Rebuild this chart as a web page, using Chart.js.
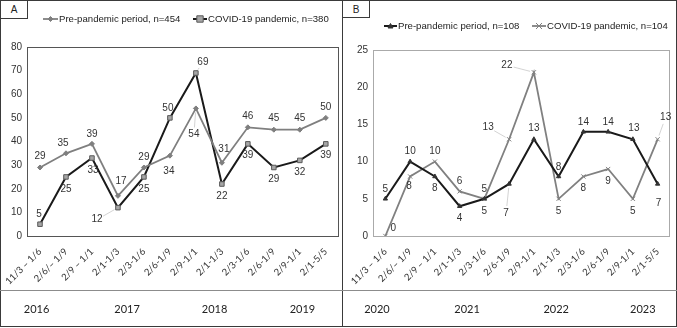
<!DOCTYPE html>
<html lang="en">
<head>
<meta charset="UTF-8">
<title>Pre-pandemic vs COVID-19</title>
<script src="https://cdn.jsdelivr.net/npm/chart.js"></script>
<style>
  html, body { margin: 0; padding: 0; background: #fff; }
  .frame { position: absolute; left: 0; top: 0; width: 677px; height: 327px; box-sizing: border-box; border: 1px solid #3a3a3a; }
  .divider { position: absolute; left: 342px; top: 0; width: 1px; height: 327px; background: #3a3a3a; }
  .hline { position: absolute; left: 0; top: 290px; width: 677px; height: 1px; background: #8c8c8c; }
  .tag { position: absolute; top: 0; width: 28px; height: 19px; box-sizing: border-box; border: 1px solid #3a3a3a;
         font: 10px "Liberation Sans", Arial, sans-serif; color: #222; text-align: center; line-height: 17px; }
  canvas { position: absolute; top: 0; }
</style>
</head>
<body>
<div class="frame"></div>
<div class="divider"></div>
<div class="hline"></div>
<div class="tag" style="left:0">A</div>
<div class="tag" style="left:342px;height:18px">B</div>
<canvas id="chartA" width="343" height="328" style="left:0"></canvas>
<canvas id="chartB" width="334" height="328" style="left:343px"></canvas>

<script>
  // x categories (same for both panels)
  const periods = ['11/3 \u2013 1/6', '2/6/\u2013 1/9', '2/9 \u2013 1/1', '2/1-1/3', '2/3-1/6', '2/6-1/9',
                   '2/9-1/1', '2/1-1/3', '2/3-1/6', '2/6-1/9', '2/9-1/1', '2/1-5/5'];

  // panel A
  const preA   = [29, 35, 39, 17, 29, 34, 54, 31, 46, 45, 45, 50];
  const covidA = [5, 25, 33, 12, 25, 50, 69, 22, 39, 29, 32, 39];
  const yearsA = ['2016', '2017', '2018', '2019'];

  // panel B
  const preB   = [5, 10, 8, 4, 5, 7, 13, 8, 14, 14, 13, 7];
  const covidB = [0, 8, 10, 6, 5, 13, 22, 5, 8, 9, 5, 13];
  const yearsB = ['2020', '2021', '2022', '2023'];

  // where the year labels sit, in category units
  const yearPosA = [-0.13, 3.35, 6.72, 10.1];
  const yearPosB = [-0.34, 3.3, 6.9, 10.4];

  // value label offsets [dx, dy, leader]
  const lblPreA   = [[0,-11],[-3,-10],[0,-10],[3,-15],[0,-10],[-1,16],[-2,26,1],[2,-14],[0,-11],[0,-11],[0,-11],[0,-11]];
  const lblCovidA = [[-1,-10],[0,12],[1,12],[-21,12,1],[0,12],[-2,-10],[7,-11,1],[0,12],[0,11],[0,12],[0,12],[0,11]];
  const lblPreB   = [[0,-10],[0,-10],[0,12],[0,12],[0,12],[-3,29,1],[0,-11],[0,-9],[0,-10],[0,-10],[1,-11],[1,19]];
  const lblCovidB = [[8,-8,1],[-1,10],[0,-10],[0,-10],[0,-10],[-21,-12,1],[-27,-7,1],[0,12],[0,12],[0,12],[0,12],[8,-22,1]];

  const FONT = '"Liberation Sans", Arial, sans-serif';
  const CAL = 'Lato, "Open Sans", sans-serif';

  function marker(ctx, style, x, y, r, fill, stroke) {
    ctx.save();
    ctx.fillStyle = fill;
    ctx.strokeStyle = stroke;
    ctx.lineWidth = 1;
    ctx.beginPath();
    if (style === 'rectRot') {
      ctx.moveTo(x, y - r); ctx.lineTo(x + r, y); ctx.lineTo(x, y + r); ctx.lineTo(x - r, y); ctx.closePath();
      ctx.fill(); ctx.stroke();
    } else if (style === 'rect') {
      ctx.rect(x - r, y - r, r * 2, r * 2); ctx.fill(); ctx.stroke();
    } else if (style === 'triangle') {
      ctx.moveTo(x, y - r); ctx.lineTo(x + r, y + r * 0.8); ctx.lineTo(x - r, y + r * 0.8); ctx.closePath();
      ctx.fill(); ctx.stroke();
    } else {
      ctx.moveTo(x - r, y - r); ctx.lineTo(x + r, y + r); ctx.moveTo(x + r, y - r); ctx.lineTo(x - r, y + r);
      ctx.stroke();
    }
    ctx.restore();
  }

  const extras = {
    id: 'extras',
    beforeDatasetsDraw(chart, args, opts) {
      const { ctx, chartArea: a } = chart;
      ctx.save();
      ctx.strokeStyle = opts.boxColor;
      ctx.lineWidth = 1;
      ctx.strokeRect(Math.round(a.left) + 0.5, Math.round(a.top) + 0.5, Math.round(a.right - a.left) - 1, Math.round(a.bottom - a.top));
      ctx.restore();
    },
    afterDatasetsDraw(chart, args, opts) {
      const { ctx } = chart;
      ctx.save();
      // value labels
      chart.data.datasets.forEach((ds, di) => {
        const meta = chart.getDatasetMeta(di);
        meta.data.forEach((pt, i) => {
          const off = ds.labelOffsets[i];
          const lx = pt.x + off[0], ly = pt.y + off[1];
          if (off[2]) {
            const dx = lx - pt.x, dy = ly - pt.y, d = Math.hypot(dx, dy);
            ctx.strokeStyle = '#c8c8c8';
            ctx.lineWidth = 0.8;
            ctx.beginPath();
            ctx.moveTo(pt.x + dx / d * 4, pt.y + dy / d * 4);
            ctx.lineTo(lx - dx / d * 7, ly - dy / d * 7);
            ctx.stroke();
          }
          ctx.fillStyle = '#333';
          ctx.font = '10px ' + FONT;
          ctx.textAlign = 'center';
          ctx.textBaseline = 'middle';
          ctx.fillText(String(ds.data[i]), lx, ly);
        });
      });
      // legend
      opts.legend.forEach(it => {
        const ds = chart.data.datasets[it.ds];
        ctx.strokeStyle = ds.borderColor;
        ctx.lineWidth = ds.borderWidth;
        ctx.beginPath();
        ctx.moveTo(it.x1, opts.legendY);
        ctx.lineTo(it.x2, opts.legendY);
        ctx.stroke();
        marker(ctx, ds.pointStyle, (it.x1 + it.x2) / 2, opts.legendY, ds.pointRadius, ds.pointBackgroundColor, ds.pointBorderColor);
        ctx.fillStyle = '#222';
        ctx.font = '9.6px ' + FONT;
        ctx.textAlign = 'left';
        ctx.textBaseline = 'middle';
        ctx.fillText(ds.label, it.x2 + 1, opts.legendY);
      });
      // year row
      const xs = chart.scales.x;
      ctx.fillStyle = '#222';
      ctx.font = '11px ' + CAL;
      ctx.textAlign = 'center';
      ctx.textBaseline = 'middle';
      opts.years.forEach((y, i) => ctx.fillText(y, xs.getPixelForValue(opts.yearPos[i]), 309));
      ctx.restore();
    }
  };

  function lineSet(label, data, offsets, color, width, style, radius, fill, stroke) {
    return {
      label, data, labelOffsets: offsets,
      borderColor: color, borderWidth: width, tension: 0,
      pointStyle: style, pointRadius: radius, pointHoverRadius: radius,
      pointBackgroundColor: fill, pointBorderColor: stroke, pointBorderWidth: 1
    };
  }

  function makeChart(id, datasets, yMax, yStep, pad, boxColor, legend, legendY, years, yearPos, yWidth) {
    return new Chart(document.getElementById(id), {
      type: 'line',
      data: { labels: periods, datasets },
      options: {
        responsive: false,
        animation: false,
        layout: { padding: pad },
        plugins: {
          legend: { display: false },
          tooltip: { enabled: false },
          extras: { boxColor, legend, legendY, years, yearPos }
        },
        scales: {
          x: {
            offset: true,
            grid: { display: false, drawTicks: false },
            border: { display: false },
            ticks: { autoSkip: false, maxRotation: 45, minRotation: 45, padding: 10, color: '#333', font: { family: CAL, size: 9.5 } },
            afterFit: s => { s.height = 92; s.paddingLeft = 0; s.paddingRight = 0; }
          },
          y: {
            min: 0, max: yMax,
            grid: { display: false, drawTicks: false },
            border: { display: false },
            ticks: { stepSize: yStep, padding: 5, color: '#333', font: { family: FONT, size: 10 } },
            afterFit: s => { s.width = yWidth; s.paddingTop = 0; s.paddingBottom = 0; }
          }
        }
      },
      plugins: [extras]
    });
  }

  makeChart('chartA', [
    lineSet('Pre-pandemic period, n=454', preA, lblPreA, '#7f7f7f', 1.8, 'rectRot', 2.5, '#7f7f7f', '#7f7f7f'),
    lineSet('COVID-19 pandemic, n=380', covidA, lblCovidA, '#1a1a1a', 2, 'rect', 3.2, '#a6a6a6', '#595959')
  ], 80, 10, { top: 47, right: 1, left: 0, bottom: 0 }, '#555',
    [{ ds: 0, x1: 43, x2: 58 }, { ds: 1, x1: 193, x2: 207 }], 19, yearsA, yearPosA, 27);

  makeChart('chartB', [
    lineSet('Pre-pandemic period, n=108', preB, lblPreB, '#1a1a1a', 2, 'triangle', 2.5, '#333', '#333'),
    lineSet('COVID-19 pandemic, n=104', covidB, lblCovidB, '#808080', 1.8, 'crossRot', 3, '#808080', '#808080')
  ], 25, 5, { top: 50, right: 7, left: 0, bottom: 0 }, '#aaa',
    [{ ds: 0, x1: 41, x2: 54 }, { ds: 1, x1: 189, x2: 203 }], 26, yearsB, yearPosB, 30);
</script>
</body>
</html>
